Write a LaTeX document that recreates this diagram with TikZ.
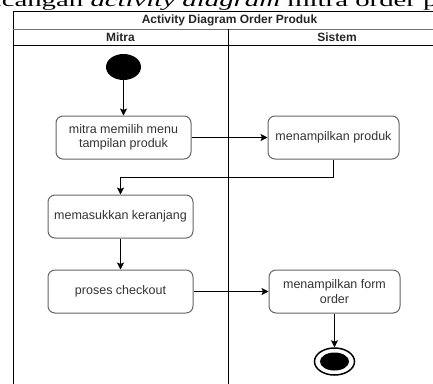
\documentclass[tikz,border=0pt]{standalone}
\usepackage{fontspec}
\usetikzlibrary{arrows.meta, positioning, shapes.geometric}
\newfontfamily\diafont{Liberation Sans}
\newfontfamily\capfont{Liberation Serif}

\begin{document}
\begin{tikzpicture}[x=1pt, y=-1pt,
    font=\diafont\fontsize{12.5}{14.5}\selectfont,
    act/.style={draw=black!60, line width=1pt, rounded corners=7pt, text=black!80,
      align=center, minimum height=43pt, inner sep=2pt},
    head/.style={font=\diafont\bfseries\fontsize{12}{14}\selectfont, text=black!85},
    flow/.style={-{Stealth[length=7pt, width=7pt, inset=1.5pt]}, line width=1pt},
    lane/.style={line width=1pt}]
  \useasboundingbox (0,0) rectangle (433,383);
  \clip (0,0) rectangle (433,383);
  \node[anchor=base east, inner sep=0pt] (cap) at (505,6.8)
    {\scalebox{1.6}[1]{\capfont\fontsize{18}{20}\selectfont Rancangan \textit{activity diagram} mitra order produk}};
  \draw[lane] (13,395) -- (13,11) -- (446,11) -- (446,395);
  \draw[lane, black!55] (13,29) -- (446,29);
  \draw[lane] (13,45) -- (446,45);
  \draw[lane] (228,29) -- (228,395);
  \node[head] (title) at (229.5,20) {Activity Diagram Order Produk};
  \node[head] (mitra) at (120.5,37) {Mitra};
  \node[head] (sistem) at (337,37) {Sistem};

  \node[ellipse, fill=black, minimum width=35pt, minimum height=26pt, inner sep=0pt] (start) at (123.5,67) {};
  \node[act, minimum width=135pt] (pilih) at (123.5,137.5) {mitra memilih menu\\tampilan produk};
  \node[act, minimum width=131pt] (tampil) at (333.5,137.5) {menampilkan produk};
  \node[act, minimum width=145pt] (cart) at (120.5,216.5) {memasukkan keranjang};
  \node[act, minimum width=145pt] (checkout) at (120.5,291.5) {proses checkout};
  \node[act, minimum width=131pt] (form) at (334.5,291.5) {menampilkan form\\order};
  \node[ellipse, draw, line width=1.5pt, minimum width=40pt, minimum height=27pt, inner sep=0pt] (end) at (334.5,361.5) {};
  \node[ellipse, fill=black, minimum width=29pt, minimum height=18pt, inner sep=0pt] (endin) at (end.center) {};

  \draw[flow] (start) -- (pilih);
  \draw[flow] (pilih) -- (tampil);
  \draw[flow] (tampil.south) -- ++(0,17.5) -| (cart.north);
  \draw[flow] (cart) -- (checkout);
  \draw[flow] (checkout) -- (form);
  \draw[flow] (form) -- (end);
\end{tikzpicture}
\end{document}
